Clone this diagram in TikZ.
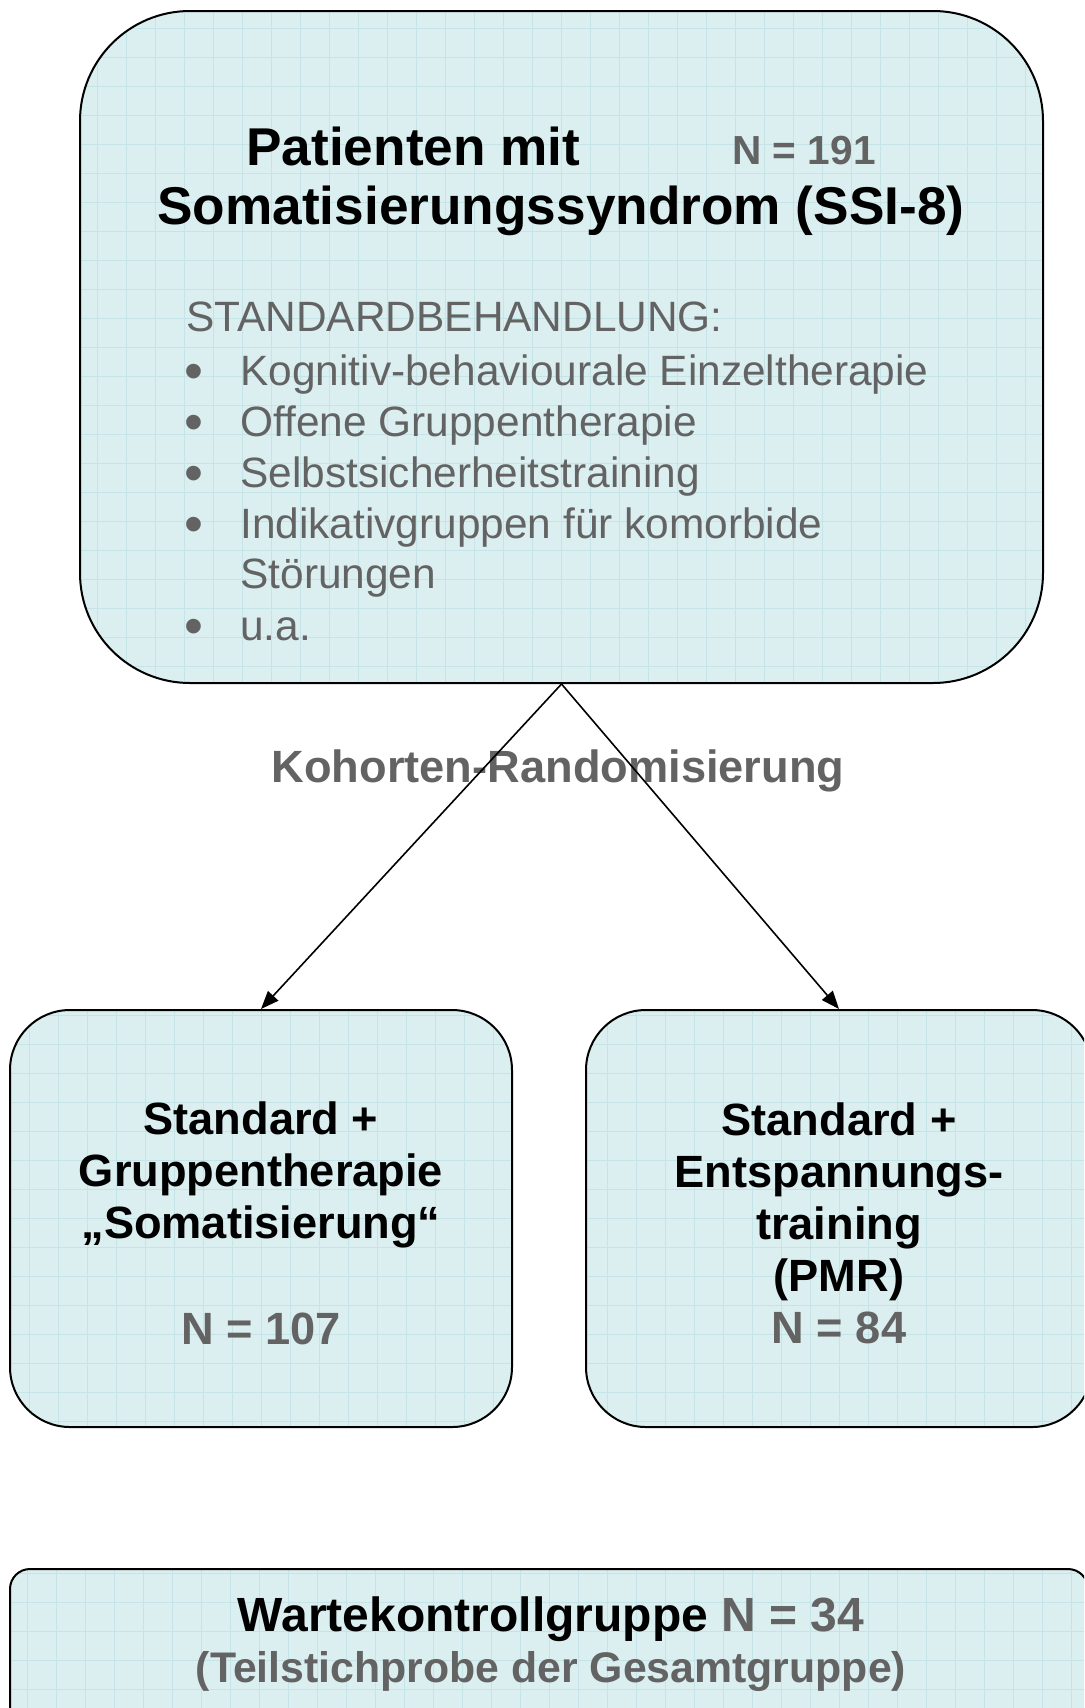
\documentclass[tikz,border=0pt]{standalone}
\usepackage{fontspec}
\setmainfont{Liberation Sans}
\usetikzlibrary{positioning}
\usetikzlibrary{arrows.meta}
\definecolor{boxfill}{RGB}{219,238,240}
\definecolor{gridcol}{RGB}{196,228,232}
\definecolor{txtgray}{RGB}{99,99,99}

\tikzset{
  box/.style={draw,line width=1pt,fill=boxfill,inner sep=0pt,
    path picture={\draw[gridcol,line width=0.5pt] (path picture bounding box.south west) grid[step=14.5pt] (path picture bounding box.north east);}},
  title/.style={inner sep=0pt,font=\bfseries\fontsize{26.6}{30}\selectfont},
  ntext/.style={inner sep=0pt,text=txtgray,font=\bfseries\fontsize{20.3}{24}\selectfont},
  listtext/.style={inner sep=0pt,text=txtgray,align=left,font=\fontsize{21.2}{25}\selectfont},
  bullet/.style={inner sep=0pt,text=txtgray,font=\fontsize{27}{30}\selectfont},
  groupfont/.style={font=\bfseries\fontsize{22.6}{26}\selectfont},
  grouptext/.style={groupfont,inner sep=0pt,align=center},
  arrow/.style={-{Triangle[length=9pt,width=7pt]},line width=0.8pt}
}

\begin{document}
\begin{tikzpicture}[x=0.5pt,y=-0.5pt]
  \clip (0,0) rectangle (1084,1708);
  % top box
  \node[box,rounded corners=55pt,minimum width=481.5pt,minimum height=336pt] (patients) at (561.5,347) {};
  \node[title,anchor=base west] (pat) at (246,165) {Patienten mit};
  \node[ntext,anchor=base west] (nall) at (732,164) {N = 191};
  \node[title,anchor=base west] (ssi) at (157,224) {Somatisierungssyndrom (SSI-8)};
  \node[listtext,anchor=base west] (standard) at (186,331) {STANDARDBEHANDLUNG:};
  \node[bullet] (bull1) at (194,377) {•};
  \node[listtext,anchor=base west] (item1) at (240,385) {Kognitiv-behaviourale Einzeltherapie};
  \node[bullet] (bull2) at (194,428) {•};
  \node[listtext,anchor=base west] (item2) at (240,436) {Offene Gruppentherapie};
  \node[bullet] (bull3) at (194,479) {•};
  \node[listtext,anchor=base west] (item3) at (240,487) {Selbstsicherheitstraining};
  \node[bullet] (bull4) at (194,530) {•};
  \node[listtext,anchor=base west] (item4) at (240,588) {Indikativgruppen für komorbide\\Störungen};
  \node[bullet] (bull5) at (194,632) {•};
  \node[listtext,anchor=base west] (item5) at (240,640) {u.a.};
  % label between the boxes
  \node[inner sep=0pt,anchor=base,text=txtgray,groupfont] (cohort) at (558,782) {Kohorten-Randomisierung};
  % group boxes
  \node[box,rounded corners=30pt,minimum width=251pt,minimum height=208.5pt] (somgroup) at (261,1218.5) {};
  \node[grouptext] (somtext) at (261,1223)
    {Standard +\\Gruppentherapie\\„Somatisierung“\\[27pt]\textcolor{txtgray}{N = 107}};
  \node[box,rounded corners=30pt,minimum width=253pt,minimum height=208.5pt] (pmrgroup) at (839,1218.5) {};
  \node[grouptext] (pmrtext) at (839,1223)
    {Standard +\\Entspannungs-\\training\\(PMR)\\\textcolor{txtgray}{N = 84}};
  \node[box,rounded corners=10pt,minimum width=539pt,minimum height=120pt] (waitgroup) at (549,1689) {};
  \node[inner sep=0pt,anchor=base,font=\bfseries\fontsize{24}{28}\selectfont] (waitlabel) at (551,1631)
    {Wartekontrollgruppe \textcolor{txtgray}{N = 34}};
  \node[inner sep=0pt,anchor=base,text=txtgray,font=\bfseries\fontsize{21.4}{25}\selectfont] (subsample) at (551,1682)
    {(Teilstichprobe der Gesamtgruppe)};
  \draw[arrow] (patients.south) -- (somgroup.north);
  \draw[arrow] (patients.south) -- (pmrgroup.north);
\end{tikzpicture}
\end{document}
